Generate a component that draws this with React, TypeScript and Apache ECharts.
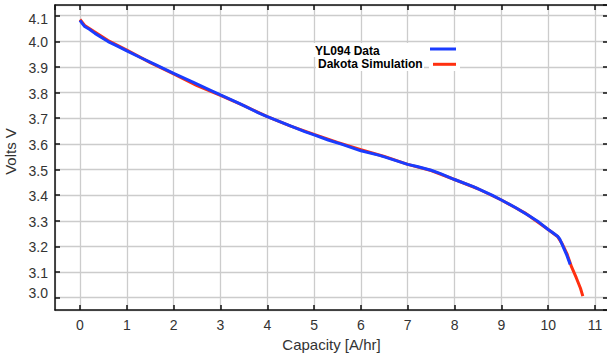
import React, { useEffect, useRef } from "react";
import * as echarts from "echarts";

const dataX = [0, 0.05, 0.1, 0.2, 0.32, 0.45, 0.6, 0.8, 1.0, 1.3, 1.6, 2.0, 2.4, 2.8, 3.0, 3.4, 3.8, 4.0, 4.4, 4.8, 5.0, 5.3, 5.6, 6.0, 6.4, 6.8, 7.0, 7.2, 7.5, 7.7, 8.0, 8.4, 8.8, 9.0, 9.3, 9.6, 9.8, 10.0, 10.1, 10.2, 10.25, 10.3, 10.4, 10.47];
const dataY = [4.082, 4.069, 4.058, 4.047, 4.031, 4.016, 3.999, 3.981, 3.963, 3.936, 3.910, 3.875, 3.842, 3.808, 3.791, 3.758, 3.722, 3.706, 3.677, 3.648, 3.635, 3.615, 3.598, 3.573, 3.555, 3.532, 3.520, 3.512, 3.497, 3.484, 3.461, 3.433, 3.400, 3.381, 3.352, 3.319, 3.295, 3.266, 3.253, 3.240, 3.228, 3.207, 3.165, 3.130];

const simX = [0, 0.1, 0.3, 0.6, 1.0, 1.5, 2.0, 2.5, 3.0, 3.5, 4.0, 4.5, 5.0, 5.5, 6.0, 6.5, 7.0, 7.5, 8.0, 8.5, 9.0, 9.5, 10.0, 10.2, 10.3, 10.4, 10.5, 10.6, 10.69, 10.74];
const simY = [4.085, 4.062, 4.038, 4.003, 3.966, 3.917, 3.873, 3.827, 3.789, 3.749, 3.706, 3.669, 3.637, 3.606, 3.577, 3.551, 3.520, 3.496, 3.461, 3.425, 3.381, 3.331, 3.266, 3.239, 3.210, 3.172, 3.120, 3.078, 3.037, 3.006];

const seriesNames = ["YL094 Data", "Dakota Simulation"];
const xName = "Capacity [A/hr]";
const yName = "Volts V";

const FONT = "'Liberation Sans', Arial, Helvetica, sans-serif";

export default function App() {
  const ref = useRef<HTMLDivElement>(null);
  useEffect(() => {
    if (!ref.current) return;
    const chart = echarts.init(ref.current, null, { renderer: "svg" });
    const mkLine = () => ({ show: true, onZero: false, lineStyle: { color: "#111", width: 1.5 } });
    const mkTick = () => ({ show: true, inside: true, length: 5, lineStyle: { color: "#111", width: 1.5 } });
    const mkSplit = () => ({ show: true, lineStyle: { color: "#cccccc", width: 1.3, type: "solid" } });
    const xMin = -0.534, xMax = 11.278, yMin = 2.952, yMax = 4.1417;
    const labelBase = { color: "#333", fontSize: 14, fontFamily: FONT };
    chart.setOption({
      animation: false,
      backgroundColor: "#ffffff",
      grid: { left: 55, top: 5, width: 553, height: 305, containLabel: false, outerBoundsMode: "none" },
      xAxis: [
        {
          type: "value", position: "bottom", min: xMin, max: xMax, splitNumber: 12, scale: true,
          axisLine: mkLine(), axisTick: mkTick(), splitLine: mkSplit(),
          axisLabel: {
            ...labelBase, margin: 8,
            showMinLabel: false, showMaxLabel: false,
            formatter: (v: number) => (Math.abs(v - Math.round(v)) < 1e-6 ? String(Math.round(v)) : ""),
          },
          name: xName, nameLocation: "middle", nameGap: 23,
          nameTextStyle: { color: "#333", fontSize: 15, fontFamily: FONT },
        },
        {
          type: "value", position: "top", min: xMin, max: xMax, splitNumber: 12, scale: true,
          axisLine: mkLine(), axisTick: mkTick(), splitLine: { show: false }, axisLabel: { show: false },
        },
      ],
      yAxis: [
        {
          type: "value", position: "left", min: yMin, max: yMax, splitNumber: 12, scale: true,
          axisLine: mkLine(), axisTick: mkTick(), splitLine: mkSplit(),
          axisLabel: {
            ...labelBase, margin: 7,
            showMinLabel: false, showMaxLabel: false,
            formatter: (v: number) => {
              const s = v.toFixed(1);
              if (Math.abs(v - 3.0) < 1e-6) return `{up|${s}}`;
              if (Math.abs(v - 4.1) < 1e-6) return `{dn|${s}}`;
              return `{n|${s}}`;
            },
            rich: {
              up: { ...labelBase, padding: [0, 0, 10, 0] },
              dn: { ...labelBase, padding: [6, 0, 0, 0] },
              n: { ...labelBase, padding: [2, 0, 0, 0] },
            },
          },
          name: yName, nameLocation: "middle", nameGap: 33, nameRotate: 90,
          nameTextStyle: { color: "#333", fontSize: 15, fontFamily: FONT, padding: [0, 0, 0, 12] },
        },
        {
          type: "value", position: "right", min: yMin, max: yMax, splitNumber: 12, scale: true,
          axisLine: mkLine(), axisTick: mkTick(), splitLine: { show: false }, axisLabel: { show: false },
        },
      ],
      series: [
        {
          name: seriesNames[1], type: "line", showSymbol: false, symbol: "none",
          xAxisIndex: 0, yAxisIndex: 0,
          data: simX.map((x, i) => [x, simY[i]]),
          lineStyle: { color: "#ff3010", width: 3 }, z: 2,
        },
        {
          name: seriesNames[0], type: "line", showSymbol: false, symbol: "none",
          xAxisIndex: 0, yAxisIndex: 0,
          data: dataX.map((x, i) => [x, dataY[i]]),
          lineStyle: { color: "#1a3cff", width: 3 }, z: 3,
        },
      ],
      graphic: [
        { type: "rect", shape: { x: 313, y: 43, width: 147, height: 14 }, style: { fill: "#fff" }, z: 10 },
        { type: "rect", shape: { x: 316, y: 57, width: 108, height: 14 }, style: { fill: "#fff" }, z: 10 },
        { type: "rect", shape: { x: 429, y: 57, width: 31, height: 14 }, style: { fill: "#fff" }, z: 10 },
        {
          type: "text", x: 315, y: 50.7, z: 11,
          style: { text: seriesNames[0], fill: "#000", font: `bold 12px ${FONT}`, verticalAlign: "middle" },
        },
        {
          type: "text", x: 318, y: 64.3, z: 11,
          style: { text: seriesNames[1], fill: "#000", font: `bold 12px ${FONT}`, verticalAlign: "middle" },
        },
        { type: "line", shape: { x1: 430, y1: 49, x2: 456, y2: 49 }, style: { stroke: "#1a3cff", lineWidth: 3 }, z: 11 },
        { type: "line", shape: { x1: 433, y1: 64.3, x2: 456, y2: 64.3 }, style: { stroke: "#ff3010", lineWidth: 3 }, z: 11 },
      ],
    });
    return () => chart.dispose();
  }, []);
  return <div ref={ref} style={{ position: "absolute", left: 0, top: 0, width: 607, height: 354 }} />;
}
